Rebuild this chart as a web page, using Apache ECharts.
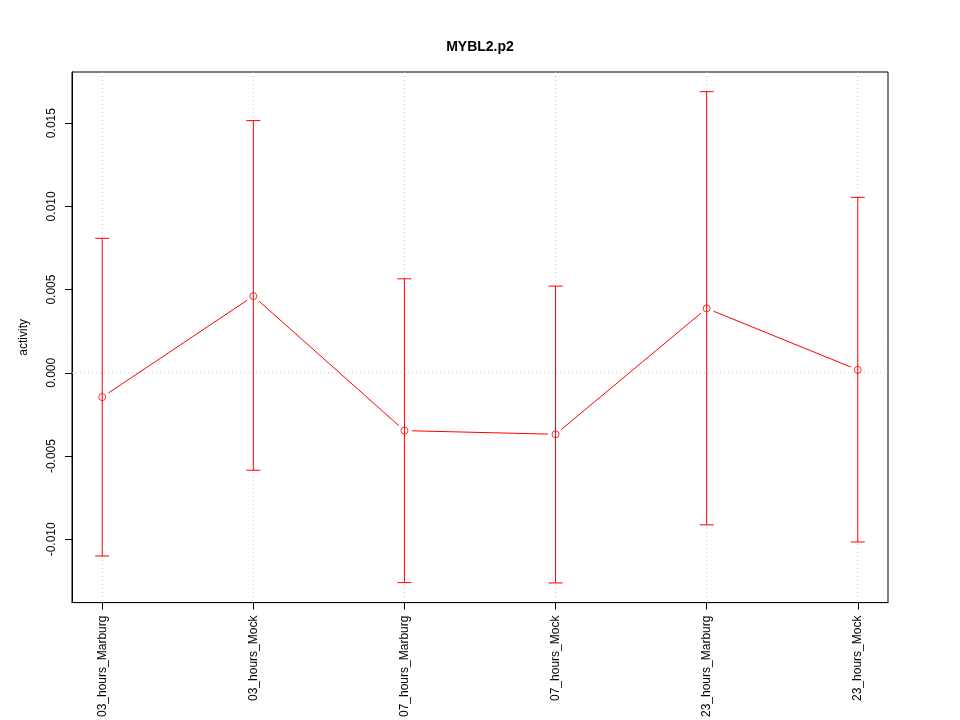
<!DOCTYPE html>
<html>
<head>
<meta charset="utf-8">
<script src="https://cdn.jsdelivr.net/npm/echarts@6/dist/echarts.min.js"></script>
<style>html,body{margin:0;padding:0;background:#fff;}#c{width:960px;height:720px;}</style>
</head>
<body>
<div id="c"></div>
<script>
const categories = ['03_hours_Marburg','03_hours_Mock','07_hours_Marburg','07_hours_Mock','23_hours_Marburg','23_hours_Mock'];
const means = [-0.00146, 0.00461, -0.00347, -0.00369, 0.00387, 0.00018];
const upper = [0.00808, 0.01515, 0.00565, 0.00521, 0.01689, 0.01054];
const lower = [-0.01100, -0.00585, -0.01260, -0.01262, -0.00913, -0.01016];
const yTicks = [-0.010, -0.005, 0.000, 0.005, 0.010, 0.015];
const yTickLabels = ['-0.010', '-0.005', '0.000', '0.005', '0.010', '0.015'];

const positions = categories.map((c, i) => i + 1);
const lo = Math.min(...lower), hi = Math.max(...upper);
const ext = (hi - lo) * 0.04;
const yMin = lo - ext, yMax = hi + ext;
const xExt = (positions.length - 1) * 0.04;

const RED = '#FF0000';
const FONT = 'Liberation Sans, Arial, Helvetica, sans-serif';

const chart = echarts.init(document.getElementById('c'), null, {renderer: 'canvas'});

const pointData = positions.map((p, i) => [p, means[i], lower[i], upper[i]]);

chart.setOption({
  animation: false,
  backgroundColor: '#fff',
  title: {
    text: 'MYBL2.p2', left: 'center', top: 35,
    textStyle: {fontFamily: FONT, fontSize: 14, fontWeight: 'bold', color: '#000'}
  },
  grid: {left: 72, right: 72, top: 72, bottom: 116, show: true, borderColor: '#000', borderWidth: 1, backgroundColor: 'transparent'},
  xAxis: {
    type: 'value', min: positions[0] - xExt, max: positions[positions.length - 1] + xExt,
    axisLine: {show: true, onZero: false, lineStyle: {color: '#000', width: 1}},
    axisTick: {show: true, length: 7, inside: false, customValues: positions, lineStyle: {color: '#000'}},
    axisLabel: {
      show: true, rotate: 90, margin: 13, customValues: positions,
      fontFamily: FONT, fontSize: 12, color: '#000',
      formatter: v => categories[Math.round(v) - 1] || ''
    },
    splitLine: {show: false}
  },
  yAxis: {
    type: 'value', min: yMin, max: yMax,
    name: 'activity', nameLocation: 'middle', nameGap: 42, nameRotate: 90,
    nameTextStyle: {fontFamily: FONT, fontSize: 12, color: '#000'},
    axisLine: {show: true, onZero: false, lineStyle: {color: '#000', width: 1}},
    axisTick: {show: true, length: 7, inside: false, customValues: yTicks, lineStyle: {color: '#000'}},
    axisLabel: {
      show: true, rotate: 90, margin: 14, customValues: yTicks,
      fontFamily: FONT, fontSize: 12, color: '#000',
      formatter: v => { const k = yTicks.findIndex(t => Math.abs(t - v) < 1e-9); return k >= 0 ? yTickLabels[k] : ''; }
    },
    splitLine: {show: false}
  },
  series: [
    {
      type: 'custom',
      silent: true,
      z: 1,
      data: positions.map(p => [p]),
      renderItem: function (params, api) {
        const x = api.value(0);
        const top = api.coord([x, yMax]);
        const bot = api.coord([x, yMin]);
        const children = [{
          type: 'line',
          shape: {x1: top[0], y1: top[1], x2: bot[0], y2: bot[1]},
          style: {stroke: '#cccccc', lineWidth: 1, lineDash: [1, 3]}
        }];
        if (params.dataIndex === 0) {
          const l = api.coord([positions[0] - xExt, 0]);
          const r = api.coord([positions[positions.length - 1] + xExt, 0]);
          children.push({
            type: 'line',
            shape: {x1: l[0], y1: l[1], x2: r[0], y2: r[1]},
            style: {stroke: '#cccccc', lineWidth: 1, lineDash: [1, 3]}
          });
        }
        return {type: 'group', children: children};
      }
    },
    {
      type: 'custom',
      silent: true,
      z: 3,
      data: pointData,
      renderItem: function (params, api) {
        const i = params.dataIndex;
        const x = api.value(0);
        const pLo = api.coord([x, api.value(2)]);
        const pHi = api.coord([x, api.value(3)]);
        const cap = 7;
        const st = {stroke: RED, lineWidth: 1};
        const children = [
          {type: 'line', shape: {x1: pLo[0], y1: pLo[1], x2: pHi[0], y2: pHi[1]}, style: st},
          {type: 'line', shape: {x1: pLo[0] - cap, y1: pLo[1], x2: pLo[0] + cap, y2: pLo[1]}, style: st},
          {type: 'line', shape: {x1: pHi[0] - cap, y1: pHi[1], x2: pHi[0] + cap, y2: pHi[1]}, style: st}
        ];
        if (i < pointData.length - 1) {
          const a = api.coord([x, api.value(1)]);
          const b = api.coord([pointData[i + 1][0], pointData[i + 1][1]]);
          const dx = b[0] - a[0], dy = b[1] - a[1];
          const len = Math.sqrt(dx * dx + dy * dy);
          const g = 7.5;
          if (len > 2 * g) {
            const ux = dx / len, uy = dy / len;
            children.push({type: 'line', shape: {x1: a[0] + ux * g, y1: a[1] + uy * g, x2: b[0] - ux * g, y2: b[1] - uy * g}, style: st});
          }
        }
        return {type: 'group', children: children};
      }
    },
    {
      type: 'scatter',
      z: 4,
      data: pointData.map(d => [d[0], d[1]]),
      symbol: 'circle',
      symbolSize: 7,
      itemStyle: {color: 'rgba(0,0,0,0)', borderColor: RED, borderWidth: 1},
      silent: true
    }
  ]
});
</script>
</body>
</html>
